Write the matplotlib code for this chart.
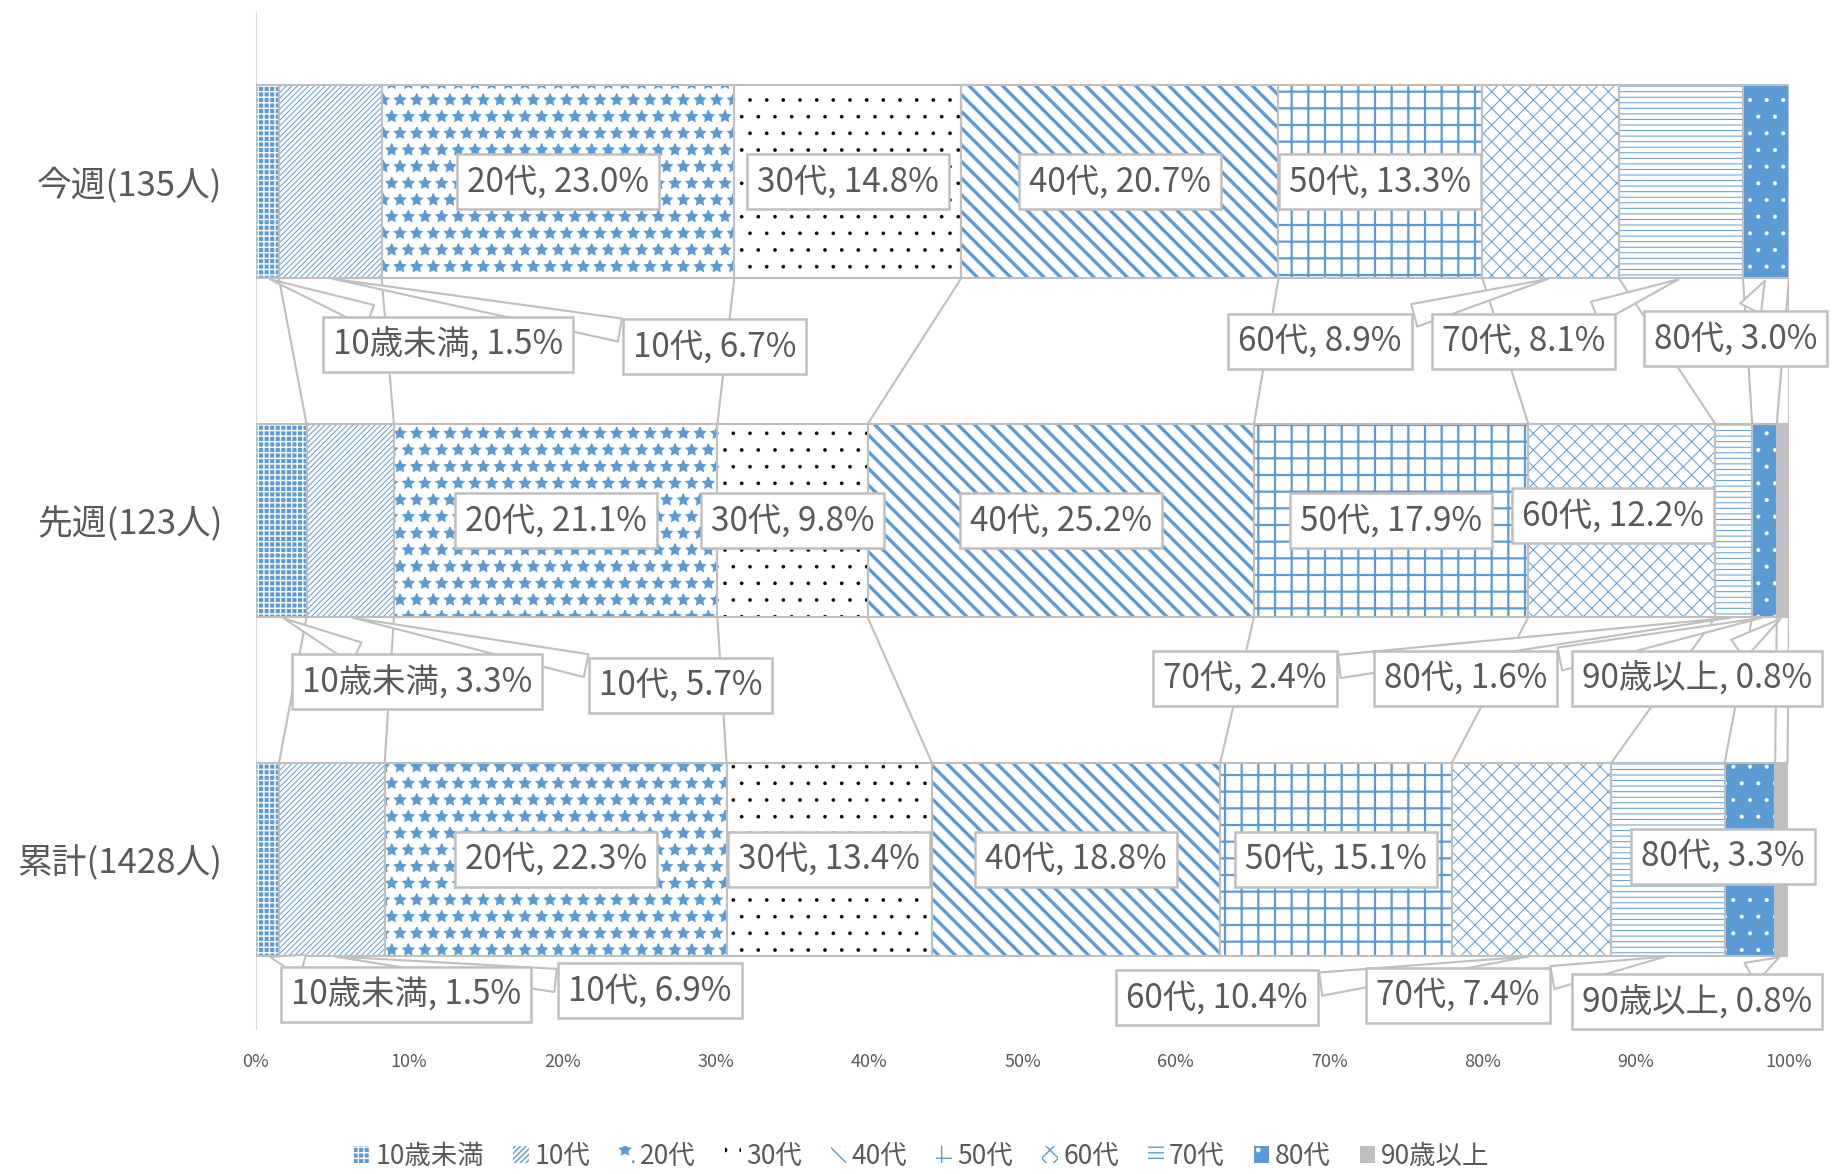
import matplotlib
matplotlib.use('Agg')
import matplotlib.pyplot as plt
import numpy as np

plt.rcParams['font.family'] = ['Noto Sans CJK JP', 'DejaVu Sans']
plt.rcParams['hatch.linewidth'] = 1.0

# データ (%)
groups = ['今週(135人)', '先週(123人)', '累計(1428人)']
ages = ['10歳未満', '10代', '20代', '30代', '40代', '50代', '60代', '70代', '80代', '90歳以上']
this_week = [1.5, 6.7, 23.0, 14.8, 20.7, 13.3, 8.9, 8.1, 3.0, 0.0]
last_week = [3.3, 5.7, 21.1, 9.8, 25.2, 17.9, 12.2, 2.4, 1.6, 0.8]
total = [1.5, 6.9, 22.3, 13.4, 18.8, 15.1, 10.4, 7.4, 3.3, 0.8]

values = np.array([this_week, last_week, total])
lefts = np.cumsum(values, axis=1) - values
ends = np.cumsum(values, axis=1)

BLUE = '#5B9BD5'
GRAY = '#BFBFBF'
TXT = '#595959'

# face, hatch, hatch colour, hatch lw
styles = [
    (BLUE, '+++', 'white', 1.0),
    ('white', '//////', BLUE, 0.7),
    ('white', '*', BLUE, 1.0),
    ('white', '.', 'black', 0.2),
    ('white', '\\\\', BLUE, 2.4),
    ('white', '+', BLUE, 1.6),
    ('white', 'xx', BLUE, 0.7),
    ('white', '---', BLUE, 0.7),
    (BLUE, '.', 'white', 0.5),
    (GRAY, '', GRAY, 1.0),
]

# ラベル位置 (外側の吹き出し)
callout_pos = {
    (0, 0): (12.5, 0.48), (0, 1): (29.9, 0.487), (0, 6): (69.4, 0.47),
    (0, 7): (82.7, 0.47), (0, 8): (96.5, 0.463),
    (1, 0): (10.5, 1.475), (1, 1): (27.7, 1.485), (1, 7): (64.5, 1.465),
    (1, 8): (78.9, 1.465), (1, 9): (94.0, 1.465),
    (2, 0): (9.8, 2.397), (2, 1): (25.7, 2.387), (2, 6): (62.7, 2.408),
    (2, 7): (78.4, 2.40), (2, 9): (94.0, 2.42),
}
inside_pos = {(1, 6): (88.5, 0.985), (2, 8): (95.7, 1.99)}

bar_h = 0.57
ypos = np.arange(len(groups))

fig = plt.figure(figsize=(18.36, 11.74), dpi=100)
ax = fig.add_axes([0.1394, 0.1235, 0.835, 0.866])

handles = []
for j, age in enumerate(ages):
    face, hatch, hcol, hlw = styles[j]
    bars = ax.barh(ypos, values[:, j], left=lefts[:, j], height=bar_h,
                   color=face, edgecolor=hcol, linewidth=0, hatch=hatch,
                   label=age, zorder=2)
    for p in bars:
        if hasattr(p, 'set_hatch_linewidth'):
            p.set_hatch_linewidth(hlw)
    handles.append(bars)
    outl = ax.barh(ypos, values[:, j], left=lefts[:, j], height=bar_h,
                   fill=False, edgecolor=GRAY, linewidth=1.5, zorder=3)
    for p, v in zip(outl, values[:, j]):
        if v == 0:
            p.set_visible(False)

# 系列線
for i in range(len(groups) - 1):
    for j in range(len(ages)):
        ax.plot([ends[i, j], ends[i + 1, j]], [i + bar_h / 2, i + 1 - bar_h / 2],
                color=GRAY, lw=1.5, zorder=1)

# データラベル
box = dict(boxstyle='square,pad=0.3', fc='white', ec=GRAY, lw=1.8)
ghost = dict(boxstyle='square,pad=0.3', fc='none', ec='none')
for i in range(len(groups)):
    for j in range(len(ages)):
        v = values[i, j]
        if v <= 0:
            continue
        txt = f'{ages[j]}, {v:.1f}%'
        cx = lefts[i, j] + v / 2
        if (i, j) in callout_pos:
            x, y = callout_pos[(i, j)]
            # 吹き出しの尾 (箱の下に描く)
            ax.annotate(txt, xy=(cx, i + bar_h / 2), xytext=(x, y),
                        ha='center', va='center', fontsize=24, color='none',
                        bbox=ghost, zorder=4,
                        arrowprops=dict(arrowstyle='wedge,tail_width=0.7',
                                        fc='white', ec=GRAY, lw=1.5))
        else:
            x, y = inside_pos.get((i, j), (cx, i))
        ax.text(x, y, txt, ha='center', va='center', fontsize=24,
                color=TXT, bbox=box, zorder=6)

ax.set_xlim(0, 100)
ax.set_ylim(2.5, -0.5)
ax.set_xticks(np.arange(0, 101, 10))
ax.set_xticklabels([f'{t}%' for t in range(0, 101, 10)])
ax.set_yticks(ypos)
ax.set_yticklabels(groups)
ax.tick_params(axis='x', length=0, labelsize=13, labelcolor=TXT, pad=17)
ax.tick_params(axis='y', length=0, labelsize=25, labelcolor=TXT, pad=24)
for s in ['top', 'right', 'bottom']:
    ax.spines[s].set_visible(False)
ax.spines['left'].set_color('#D9D9D9')

fig.legend(handles=handles, labels=ages, loc='center', bbox_to_anchor=(0.502, 0.015),
           ncol=10, frameon=False, fontsize=19, labelcolor=TXT,
           handlelength=0.6, handleheight=0.6, handletextpad=0.2, columnspacing=1.1)

fig.savefig('out.png', dpi=100)
